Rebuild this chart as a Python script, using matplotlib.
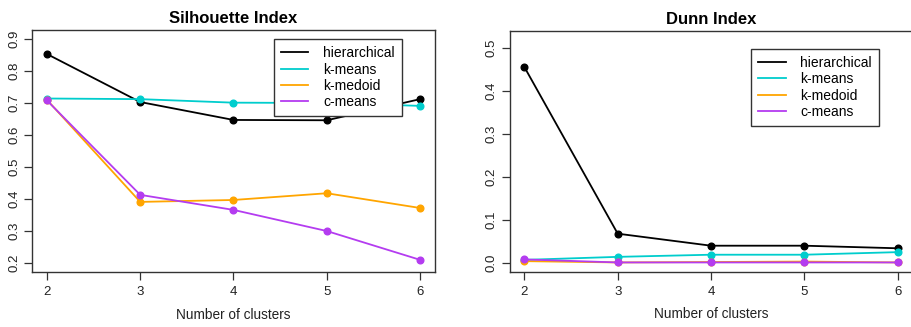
import matplotlib
matplotlib.use("Agg")
import matplotlib.pyplot as plt

plt.rcParams['font.family'] = ['Liberation Sans', 'DejaVu Sans']

clusters = [2, 3, 4, 5, 6]
methods = ["hierarchical", "k-means", "k-medoid", "c-means"]
colors = ["#000000", "#00CDCD", "#FFA500", "#B43CF0"]

sil_hier = [0.853, 0.703, 0.647, 0.646, 0.712]
sil_kmeans = [0.714, 0.712, 0.701, 0.700, 0.691]
sil_kmedoid = [0.710, 0.391, 0.397, 0.418, 0.372]
sil_cmeans = [0.708, 0.413, 0.366, 0.300, 0.210]

dunn_hier = [0.456, 0.068, 0.040, 0.040, 0.034]
dunn_kmeans = [0.007, 0.014, 0.019, 0.019, 0.025]
dunn_kmedoid = [0.004, 0.001, 0.002, 0.003, 0.001]
dunn_cmeans = [0.008, 0.001, 0.001, 0.001, 0.001]

sil_yticks = [0.2, 0.3, 0.4, 0.5, 0.6, 0.7, 0.8, 0.9]
dunn_yticks = [0.0, 0.1, 0.2, 0.3, 0.4, 0.5]

fig = plt.figure(figsize=(9.11, 3.27), dpi=100)
W, H = 911, 327

def make_ax(x0, x1, y0, y1):
    return fig.add_axes([x0 / W, 1 - y1 / H, (x1 - x0) / W, (y1 - y0) / H])

ax1 = make_ax(32, 435, 30, 272)
ax2 = make_ax(509.5, 912.5, 30.7, 271.8)

def style(ax, title, yticks, ylim):
    for s in ax.spines.values():
        s.set_linewidth(1.0)
        s.set_color("#333333")
    ax.set_xlim(1.84, 6.16)
    ax.set_ylim(*ylim)
    ax.set_xticks(clusters)
    ax.set_xticklabels([str(c) for c in clusters])
    ax.set_yticks(yticks)
    ax.set_yticklabels([f"{t:.1f}" for t in yticks], rotation=90, va='center')
    ax.tick_params(axis='both', length=6, width=0.9, color="#333333",
                   labelsize=9.5, labelcolor="#222222")
    ax.tick_params(axis='x', pad=4)
    ax.tick_params(axis='y', pad=2.5)
    ax.set_title(title, fontsize=12, fontweight='bold', pad=5)
    ax.set_xlabel("Number of clusters", fontsize=9.8, color="#222222", labelpad=7)

series_sil = [sil_hier, sil_kmeans, sil_kmedoid, sil_cmeans]
series_dunn = [dunn_hier, dunn_kmeans, dunn_kmedoid, dunn_cmeans]

for ax, series in [(ax1, series_sil), (ax2, series_dunn)]:
    for name, vals, c in zip(methods, series, colors):
        ax.plot(clusters, vals, color=c, lw=1.3, marker='o', markersize=4.8,
                label=name)

style(ax1, "Silhouette Index", sil_yticks, (0.172, 0.928))
style(ax2, "Dunn Index", dunn_yticks, (-0.0208, 0.5408))

for ax, yy in [(ax1, 0.9616), (ax2, 0.924)]:
    leg = ax.legend(loc='upper right', bbox_to_anchor=(0.917, yy),
                    fontsize=10, handlelength=2.0, handletextpad=1.05,
                    labelspacing=0.17, borderpad=0.5, borderaxespad=0,
                    fancybox=False, framealpha=1, edgecolor="#333333")
    leg.get_frame().set_linewidth(1.0)
    for h in leg.legend_handles:
        h.set_marker("")

fig.savefig("out.png", dpi=100)
